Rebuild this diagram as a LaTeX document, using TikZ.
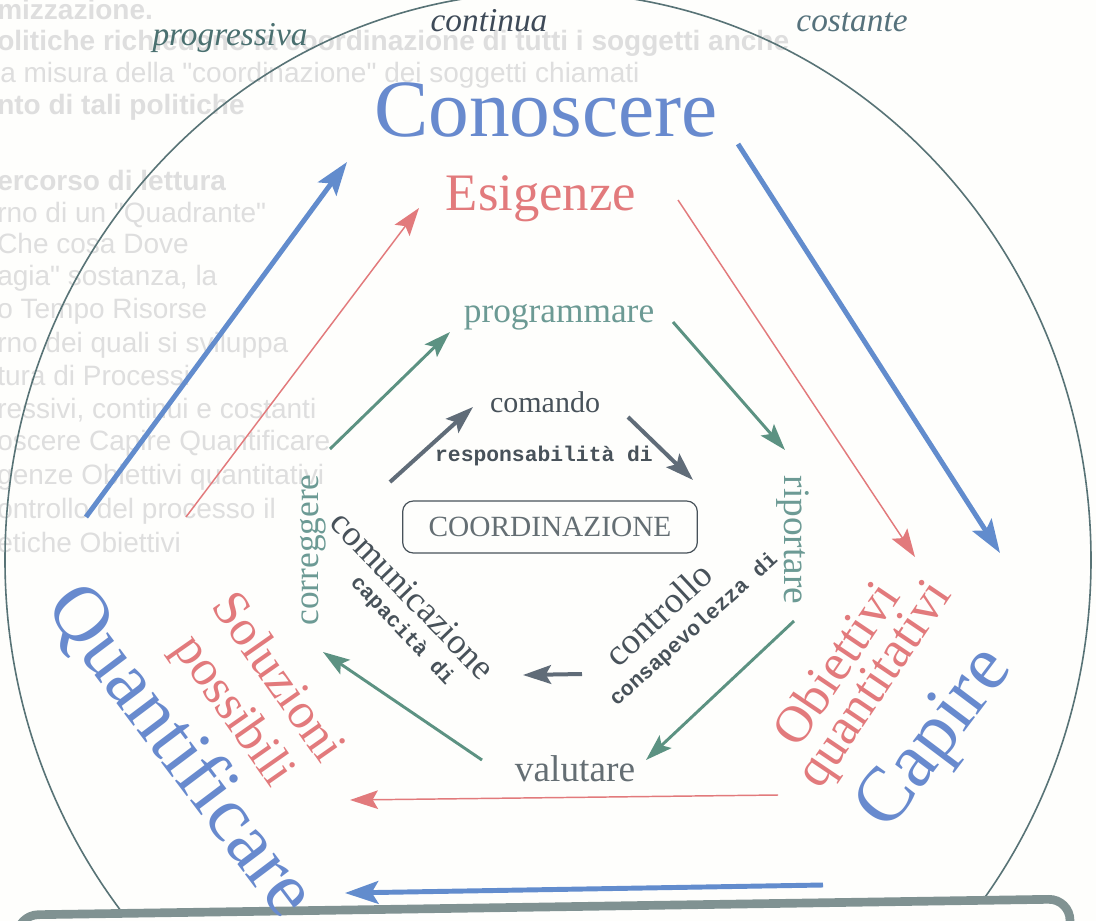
\documentclass[tikz,border=0pt]{standalone}
\usepackage{fontspec}
\setmainfont{Liberation Serif}
\setmonofont{Liberation Mono}
\newfontfamily\ghostfont{Liberation Sans}
\usetikzlibrary{arrows.meta}

\definecolor{paper}{RGB}{254,254,252}
\definecolor{ghostgray}{RGB}{222,222,222}
\definecolor{ringline}{RGB}{88,115,118}
\definecolor{barline}{RGB}{128,146,146}
\definecolor{kblue}{RGB}{98,140,205}
\definecolor{kbluetext}{RGB}{104,138,206}
\definecolor{kred}{RGB}{226,122,124}
\definecolor{kteal}{RGB}{92,146,130}
\definecolor{ktealtext}{RGB}{108,154,148}
\definecolor{kgrey}{RGB}{96,108,120}
\definecolor{kdark}{RGB}{72,82,90}
\definecolor{kitalA}{RGB}{74,112,112}
\definecolor{kitalB}{RGB}{62,74,88}
\definecolor{kitalC}{RGB}{86,114,124}
\definecolor{kval}{RGB}{100,110,115}

\newcommand\fsz[1]{\fontsize{#1}{#1}\selectfont}

\begin{document}
\begin{tikzpicture}[x=0.75pt,y=-0.75pt,
  ghost/.style={anchor=base west, inner sep=0pt, text=ghostgray, font=\ghostfont\fsz{21pt}},
  ghostb/.style={ghost, font=\ghostfont\bfseries\fsz{21pt}},
  lbl/.style={inner sep=0pt},
  topword/.style={lbl, anchor=base, font=\itshape\fsz{25pt}},
  monolbl/.style={lbl, text=kdark, font=\ttfamily\bfseries\fsz{16pt}},
  arrowblue/.style={draw=kblue, line width=3.7pt, -{Stealth[length=25pt,width=17pt,inset=5pt]}},
  arrowred/.style={draw=kred, line width=1.1pt, -{Stealth[length=21pt,width=14pt,inset=4pt]}},
  arrowteal/.style={draw=kteal, line width=2.2pt, -{Stealth[length=20pt,width=13pt,inset=4pt]}},
  arrowgrey/.style={draw=kgrey, line width=3pt, -{Stealth[length=21pt,width=14pt,inset=4pt]}}
]
\useasboundingbox (0,0) rectangle (1096,921);
\fill[paper] (0,0) rectangle (1096,921);

% faint text of the page underneath
\node[ghostb] (g1) at (-3,19) {mizzazione.};
\node[ghostb] (g2) at (-3,50) {olitiche richiedono la coordinazione di tutti i soggetti anche};
\node[ghost] (g3) at (0,82) {a misura della "coordinazione" dei soggetti chiamati};
\node[ghostb] (g4) at (-3,114) {nto di tali politiche};
\node[ghostb] (g5) at (-3,190) {ercorso di lettura};
\node[ghost] (g6) at (-3,222) {rno di un "Quadrante"};
\node[ghost] (g7) at (-3,253) {Che cosa  Dove};
\node[ghost] (g8) at (-3,285) {agia" sostanza, la};
\node[ghost] (g9) at (-3,318) {o   Tempo   Risorse};
\node[ghost] (g10) at (-3,352) {rno dei quali si sviluppa};
\node[ghost] (g11) at (-3,385) {tura di Processi};
\node[ghost] (g12) at (-3,418) {ressivi, continui e costanti};
\node[ghost] (g13) at (-3,450) {oscere   Capire   Quantificare};
\node[ghost] (g14) at (-3,484) {genze   Obiettivi quantitativi};
\node[ghost] (g15) at (-3,518) {ontrollo del processo il};
\node[ghost] (g16) at (-3,552) {etiche   Obiettivi};

% the big rounded outline, cut by the box below
\begin{scope}
  \clip (-20,-30) -- (1120,-30) -- (1120,899) -- (-20,915) -- cycle;
  \draw[ringline, line width=1.2pt] (548,560) ellipse [x radius=543, y radius=568];
\end{scope}

% frame of the box below
\draw[barline, line width=6.5pt, rounded corners=16pt] (17,990) -- (17,915) -- (1070,899) -- (1070,990);

% top words
\node[topword, text=kitalA] (wprog) at (230,45) {progressiva};
\node[topword, text=kitalB] (wcont) at (489,31) {continua};
\node[topword, text=kitalC] (wcost) at (852,31) {costante};

% labels
\node[lbl, anchor=base, text=kbluetext, font=\fsz{61pt}] (know) at (546,136) {Conoscere};
\node[lbl, anchor=base, text=kred, font=\fsz{39.5pt}] (needs) at (541,210) {Esigenze};
\node[lbl, anchor=base, text=ktealtext, font=\fsz{26.5pt}] (plan) at (559,322) {programmare};
\node[lbl, anchor=base, text=kdark, font=\fsz{22.5pt}] (cmd) at (545,412) {comando};
\node[monolbl, anchor=base] (resp) at (544,461) {responsabilità di};
\node[draw=kdark, line width=0.9pt, rounded corners=8pt, minimum width=221pt,
      minimum height=39pt, inner sep=0pt, text=kval, font=\fsz{22pt}] (coord) at (550,527) {COORDINAZIONE};
\node[lbl, rotate=90, text=ktealtext, font=\fsz{26.5pt}] (fix) at (313,550) {correggere};
\node[lbl, rotate=-90, text=ktealtext, font=\fsz{28pt}] (report) at (793,540) {riportare};
\node[lbl, rotate=-46, text=kdark, font=\fsz{27pt}] (comm) at (413,595) {comunicazione};
\node[monolbl, rotate=-47] (capa) at (402,631) {capacità di};
\node[lbl, rotate=43, text=kdark, font=\fsz{27.5pt}] (ctrl) at (658,614) {controllo};
\node[monolbl, rotate=42] (aware) at (694,630) {consapevolezza di};
\node[lbl, anchor=base, text=kval, font=\fsz{28pt}] (eval) at (575,781) {valutare};
\node[lbl, rotate=-55, text=kred, font=\fsz{38pt}] (sol) at (280,676) {Soluzioni};
\node[lbl, rotate=-55, text=kred, font=\fsz{38pt}] (poss) at (232,712) {possibili};
\node[lbl, rotate=-53, text=kbluetext, font=\fsz{59pt}] (quant) at (180,752) {Quantificare};
\node[lbl, rotate=56, text=kred, font=\fsz{39pt}] (goal) at (835,663) {Obiettivi};
\node[lbl, rotate=56, text=kred, font=\fsz{39pt}] (goalq) at (877,686) {quantitativi};
\node[lbl, rotate=53, text=kbluetext, font=\fsz{58pt}] (under) at (937,740) {Capire};

% arrow end points
\coordinate (b1a) at (86,517);   \coordinate (b1b) at (347,162);
\coordinate (b2a) at (738,144);  \coordinate (b2b) at (1000,553);
\coordinate (b3a) at (823,885);  \coordinate (b3b) at (345,893);
\coordinate (r1a) at (186,517);  \coordinate (r1b) at (419,208);
\coordinate (r2a) at (678,200);  \coordinate (r2b) at (915,557);
\coordinate (r3a) at (778,795);  \coordinate (r3b) at (350,800);
\coordinate (t1a) at (330,449);  \coordinate (t1b) at (450,332);
\coordinate (t2a) at (673,322);  \coordinate (t2b) at (785,450);
\coordinate (t3a) at (794,621);  \coordinate (t3b) at (646,760);
\coordinate (t4a) at (482,760);  \coordinate (t4b) at (323,652);
\coordinate (k1a) at (390,482);  \coordinate (k1b) at (473,407);
\coordinate (k2a) at (628,417);  \coordinate (k2b) at (693,480);
\coordinate (k3a) at (582,674);  \coordinate (k3b) at (523,675);

% outer cycle
\draw[arrowblue] (b1a) -- (b1b);
\draw[arrowblue] (b2a) -- (b2b);
\draw[arrowblue] (b3a) -- (b3b);
% second cycle
\draw[arrowred] (r1a) -- (r1b);
\draw[arrowred] (r2a) -- (r2b);
\draw[arrowred] (r3a) -- (r3b);
% third cycle
\draw[arrowteal] (t1a) -- (t1b);
\draw[arrowteal] (t2a) -- (t2b);
\draw[arrowteal] (t3a) -- (t3b);
\draw[arrowteal] (t4a) -- (t4b);
% inner cycle
\draw[arrowgrey] (k1a) -- (k1b);
\draw[arrowgrey] (k2a) -- (k2b);
\draw[arrowgrey] (k3a) -- (k3b);
\end{tikzpicture}
\end{document}
